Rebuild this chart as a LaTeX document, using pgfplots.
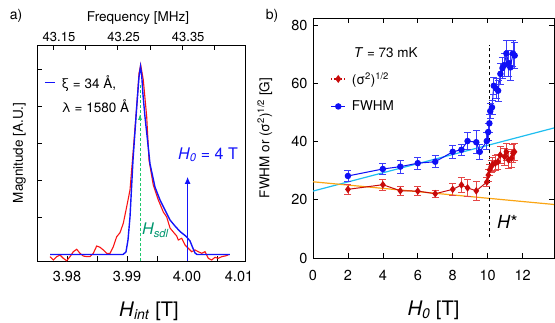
\documentclass[border=0pt]{standalone}
\usepackage{fontspec}
\setmainfont{TeX Gyre Heros}
\usepackage{pgfplots}
\pgfplotsset{compat=1.18}
\usetikzlibrary{arrows.meta}

\definecolor{cblue}{RGB}{20,20,250}
\definecolor{cred}{RGB}{250,20,20}
\definecolor{dred}{RGB}{200,10,10}
\definecolor{ered}{RGB}{228,70,70}
\definecolor{bblue}{RGB}{15,15,245}
\definecolor{eblue}{RGB}{60,60,250}
\definecolor{ccyan}{RGB}{30,190,240}
\definecolor{corange}{RGB}{250,165,20}
\definecolor{cgreen}{RGB}{30,200,110}
\definecolor{tgreen}{RGB}{0,150,110}
\newcommand{\fs}[1]{\fontsize{#1}{#1}\selectfont}

\pgfplotstableread{
x y
3.977167 0
3.989333 0
3.989833 0.068
3.990167 0.392
3.9905 1.014
3.991 2.554
3.991617 3.986
3.992 4.797
3.99225 5.081
3.99245 4.851
3.992667 4.311
3.993 3.716
3.993417 3.095
3.993833 2.45
3.994667 1.82
3.9955 1.473
3.996333 1.203
3.997167 0.932
3.998 0.770
3.998833 0.622
3.999667 0.514
4.000167 0.432
4.0005 0.365
4.000833 0.230
4.001333 0.041
4.001667 0
4.007167 0
}\simdata

\pgfplotstableread{
x y
3.977167 -0.059
3.977717 -0.149
3.978283 -0.059
3.978833 -0.014
3.979383 -0.103
3.97995 -0.17
3.9805 -0.059
3.98105 0.076
3.981617 0.141
3.982167 0.032
3.982717 -0.041
3.983283 -0.059
3.983833 -0.059
3.984383 0.032
3.98495 0.230
3.9855 0.195
3.98605 0.122
3.986617 0.032
3.987167 0.032
3.987717 0.211
3.988283 0.481
3.988833 0.589
3.989383 0.843
3.98995 1.292
3.9905 1.743
3.99105 2.824
3.991617 3.995
3.992 4.897
3.992283 5.122
3.992717 4.716
3.993283 3.724
3.99367 2.55
3.99438 1.878
3.995217 1.473
3.99605 1.149
3.996617 1.014
3.997167 0.716
3.997717 0.608
3.998283 0.50
3.99855 0.392
3.999117 0.438
3.999667 0.257
4.000217 0.168
4.00078 0.076
4.001333 0.122
4.001883 0.076
4.00245 0.032
4.003 0.076
4.00355 -0.103
4.004117 -0.149
4.004667 -0.076
4.005217 -0.103
4.005783 -0.059
4.006333 -0.041
4.006883 -0.014
}\expdata

\pgfplotstableread{
x y e
2.0 28.2 2.0
4.0 30.6 2.0
5.0 31.4 2.2
6.0 32.6 2.0
7.0 33.1 2.0
8.0 36.5 2.2
8.5 37.2 2.0
8.85 40.2 3.0
9.35 39.8 4.0
9.55 36.5 2.5
9.95 40.2 3.0
10.03 43.3 3.0
10.1 46.3 3.0
10.15 50.5 2.5
10.25 51.8 2.5
10.35 59.2 3.0
10.48 58.3 3.5
10.6 57.5 3.5
10.73 63.3 3.5
10.85 65.3 3.5
10.95 66.3 4.0
11.07 70.3 4.5
11.2 67.0 4.5
11.3 65.5 4.5
11.45 70.3 4.5
11.55 69.6 4.5
}\fwhm

\pgfplotstableread{
x y e
2.0 23.6 1.8
4.0 25.2 1.8
5.0 23.1 1.5
6.0 23.0 1.5
7.0 22.1 1.2
8.0 23.6 2.0
8.5 25.1 2.5
8.85 24.1 3.0
9.35 23.1 3.4
9.95 26.1 1.5
10.04 28.5 2.0
10.11 30.3 2.0
10.2 31.4 2.0
10.3 32.2 2.5
10.44 32.6 2.5
10.59 33.1 2.5
10.72 35.4 3.0
10.97 34.8 3.0
11.07 36.5 3.0
11.2 33.7 3.0
11.36 34.3 3.0
11.45 36.0 3.0
11.54 36.5 3.0
}\sigdata

\begin{document}
\begin{tikzpicture}
% ---------------- panel a ----------------
\begin{axis}[
  at={(37pt,61pt)}, anchor=south west,
  scale only axis, width=208pt, height=216pt,
  xmin=3.975, xmax=4.009667, ymin=-0.176, ymax=5.662,
  xtick={3.98,3.985,3.99,3.995,4.0,4.005},
  xticklabels={3.98,,3.99,,4.00,},
  extra x ticks={4.00867}, extra x tick labels={4.01},
  extra x tick style={major tick length=0pt},
  ytick={1,2,3,4,5}, yticklabels={},
  xtick pos=left, ytick pos=left, tick align=inside,
  major tick length=5pt,
  every tick/.style={black, line width=0.7pt},
  axis line style={line width=0.8pt},
  xticklabel style={font=\fs{14.5}, yshift=-7pt},
  xlabel={\textit{H}\textsubscript{\textit{int}} [T]},
  xlabel style={font=\fs{20}, at={(axis description cs:0.538,-0.257)}, anchor=base},
  ylabel={Magnitude [A.U.]},
  ylabel style={font=\fs{13.5}, at={(axis description cs:-0.085,0.5)}, anchor=center},
  legend style={at={(axis description cs:0.034,0.77)}, anchor=west, draw=none, fill=none,
    font=\fs{13.5}, inner sep=0pt, row sep=8pt, nodes={inner sep=1pt}},
  legend cell align=left,
  legend image code/.code={\draw[#1] (0pt,0pt) -- (10pt,0pt); \path (15pt,0pt);},
]
\addplot[cred, line width=1.1pt, forget plot] table[x=x,y=y] {\expdata};
\addplot[cblue, line width=1.4pt] table[x=x,y=y] {\simdata};
\addlegendentry{ξ = 34 Å,}
\addlegendimage{empty legend}
\addlegendentry{λ = 1580 Å}
\addplot[cgreen, densely dashed, line width=0.9pt, -{Latex[length=6pt,width=4pt]}, forget plot] coordinates {(3.99217,-0.18) (3.99217,3.8)};
\addplot[cgreen, densely dashed, line width=0.9pt, forget plot] coordinates {(3.99217,3.7) (3.99217,4.6)};
\addplot[cblue, line width=1.2pt, -{Latex[length=7pt,width=6pt]}, forget plot] coordinates {(4.0001,-0.18) (4.0001,2.1)};
\node[anchor=base west, text=cblue, font=\fs{16}, inner sep=0pt] at (axis cs:3.9985,2.573) {\textit{H\textsubscript{0}} = 4 T};
\node[anchor=base west, text=tgreen, font=\fs{16}, inner sep=0pt] at (axis cs:3.9925,0.527) {\textit{H\textsubscript{sdl}}};
\end{axis}
% top frequency axis
\begin{axis}[
  at={(37pt,61pt)}, anchor=south west,
  scale only axis, width=208pt, height=216pt,
  xmin=43.12523, xmax=43.44721, ymin=0, ymax=1,
  axis x line*=top, axis y line=none, x axis line style={-, line width=0.8pt},
  tick align=inside, major tick length=5pt,
  every tick/.style={black, line width=0.7pt},
  xtick={43.15,43.2,43.25,43.3,43.35,43.4},
  xticklabels={43.15,,43.25,,43.35,},
  xticklabel style={font=\fs{13}, xshift=6pt},
  xlabel={Frequency [MHz]},
  xlabel style={font=\fs{13.5}, at={(axis description cs:0.486,1.111)}, anchor=base},
]
\end{axis}
% ---------------- panel b ----------------
\begin{axis}[
  at={(313pt,64pt)}, anchor=south west,
  scale only axis, width=241pt, height=240pt,
  xmin=0, xmax=13.8, ymin=0, ymax=82.5,
  xtick={0,2,...,12}, ytick={0,20,...,80},
  tick align=inside, major tick length=5pt,
  every tick/.style={black, line width=0.7pt},
  axis line style={line width=0.8pt},
  /pgf/number format/assume math mode=true,
  xticklabel style={font=\fs{14.5}, yshift=-9pt},
  yticklabel style={font=\fs{14.5}, xshift=-2pt},
  xlabel={\textit{H\textsubscript{0}} [T]},
  xlabel style={font=\fs{20}, at={(axis description cs:0.5,-0.24)}, anchor=base},
  ylabel={FWHM or (σ\textsuperscript{2})\textsuperscript{1/2} [G]},
  ylabel style={font=\fs{13.5}, at={(axis description cs:-0.2,0.5)}, anchor=center},
  legend style={at={(axis cs:1.0,64.3)}, anchor=north west, draw=none, fill=none,
    font=\fs{13.5}, inner sep=0pt, row sep=13pt, nodes={inner sep=1pt}},
  legend cell align=left,
  legend image code/.code={\draw[mark repeat=2,mark phase=2,#1] plot coordinates {(0pt,0pt) (7pt,0pt) (14pt,0pt)}; \path (19pt,0pt);},
]
\addplot[ccyan, line width=1.2pt, forget plot] coordinates {(0,23.0) (13.8,44.7)};
\addplot[corange, line width=1.2pt, forget plot] coordinates {(0,26.2) (13.8,18.4)};
\addplot[black, dashed, line width=0.8pt, forget plot] coordinates {(10.08,7.1) (10.08,73.2)};
\addplot[dred, line width=1pt, mark=diamond*, mark size=3pt, forget plot,
  error bars/.cd, y dir=both, y explicit,
  error bar style={color=ered, line width=0.8pt},
  error mark options={rotate=90, mark size=3.5pt, color=ered, line width=0.8pt}]
  table[x=x,y=y,y error=e] {\sigdata};
\addplot[bblue, line width=1pt, mark=*, mark size=2.7pt, forget plot,
  error bars/.cd, y dir=both, y explicit,
  error bar style={color=eblue, line width=0.8pt},
  error mark options={rotate=90, mark size=3.5pt, color=eblue, line width=0.8pt}]
  table[x=x,y=y,y error=e] {\fwhm};
\addlegendimage{dred, dotted, line width=1.2pt, mark=diamond*, mark size=3pt, mark options={solid}}
\addlegendentry{(σ\textsuperscript{2})\textsuperscript{1/2}}
\addlegendimage{bblue, line width=1pt, mark=*, mark size=2.7pt}
\addlegendentry{FWHM}
\node[font=\fs{13.5}, anchor=center] at (axis cs:4.17,70.5) {\textit{T} = 73 mK};
\node[font=\fs{18}, anchor=base west, inner sep=0pt] at (axis cs:10.53,10.0) {\textit{H}*};
\end{axis}
\node[font=\fs{14}] at (16pt,306pt) {a)};
\node[font=\fs{14}] at (272pt,306pt) {b)};
\pgfresetboundingbox
\path[use as bounding box] (0pt,0pt) rectangle (555pt,322pt);
\end{tikzpicture}
\end{document}
